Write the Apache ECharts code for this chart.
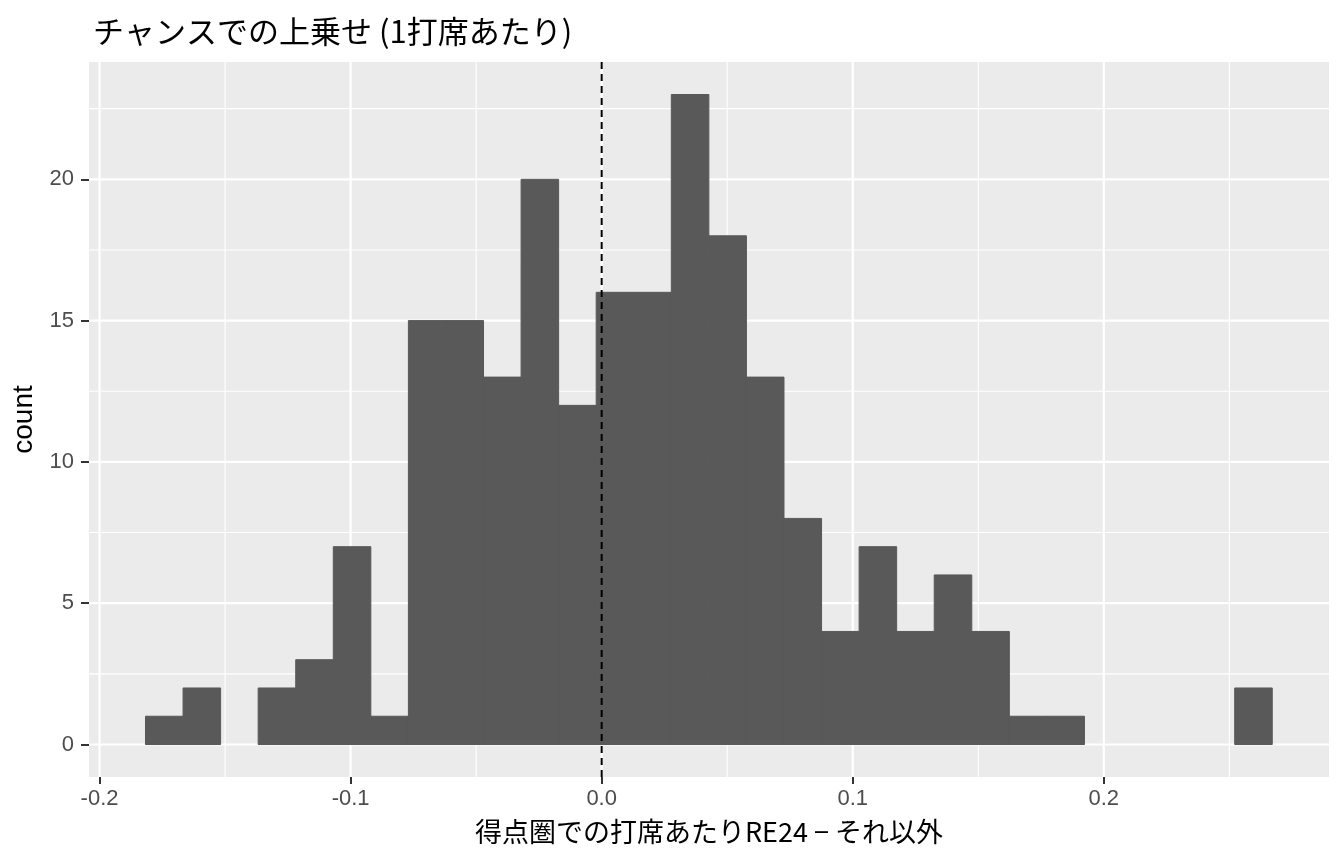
<!DOCTYPE html>
<html>
<head>
<meta charset="utf-8">
<script src="https://cdn.jsdelivr.net/npm/echarts@6/dist/echarts.min.js"></script>
<style>
html,body{margin:0;padding:0;background:#fff;}
#chart{width:1344px;height:864px;}
</style>
</head>
<body>
<div id="chart"></div>
<script>
// Histogram bins (30 bins)
const binStart = -0.1817;
const binWidth = 0.01496;
const counts = [1, 2, 0, 2, 3, 7, 1, 15, 15, 13, 20, 12, 16, 16, 23, 18, 13, 8, 4, 7, 4, 6, 4, 1, 1, 0, 0, 0, 0, 2];
const xTicks = [-0.2, -0.1, 0, 0.1, 0.2];
const xMinor = [-0.15, -0.05, 0.05, 0.15, 0.25];
const yTicks = [0, 5, 10, 15, 20];
const yMinor = [2.5, 7.5, 12.5, 17.5, 22.5];
const refLine = [0];
const xRange = [-0.2042, 0.2897];
const yRange = [-1.15, 24.15];

const titleText = 'チャンスでの上乗せ (1打席あたり)';
const xTitle = '得点圏での打席あたりRE24 − それ以外';
const yTitle = 'count';

const bars = counts.map((c, i) => [binStart + i * binWidth, binStart + (i + 1) * binWidth, c]);

const gridLines = [];
xTicks.forEach(v => gridLines.push(['x', v, 2.2]));
xMinor.forEach(v => gridLines.push(['x', v, 1.1]));
yTicks.forEach(v => gridLines.push(['y', v, 2.2]));
yMinor.forEach(v => gridLines.push(['y', v, 1.1]));

const chart = echarts.init(document.getElementById('chart'));
chart.setOption({
  animation: false,
  backgroundColor: '#ffffff',
  title: {
    text: titleText,
    left: 88, top: 11,
    textStyle: {fontFamily: 'Noto Sans CJK JP', fontSize: 31, fontWeight: 'normal', color: '#000'}
  },
  grid: {
    left: 89, right: 15, top: 62, bottom: 87,
    show: true, backgroundColor: '#EBEBEB', borderWidth: 0
  },
  xAxis: {
    type: 'value', min: xRange[0], max: xRange[1],
    name: xTitle, nameLocation: 'middle', nameGap: 41,
    nameTextStyle: {fontFamily: 'Noto Sans CJK JP', fontSize: 27, color: '#000'},
    axisLine: {show: false, onZero: false},
    axisTick: {show: true, length: 7, customValues: xTicks, lineStyle: {color: '#333333', width: 2}},
    axisLabel: {customValues: xTicks, margin: 11, fontFamily: 'Liberation Sans', fontSize: 22, color: '#4D4D4D',
      formatter: v => v.toFixed(1)},
    splitLine: {show: false}
  },
  yAxis: {
    type: 'value', min: yRange[0], max: yRange[1],
    name: yTitle, nameLocation: 'middle', nameGap: 48, nameRotate: 90,
    nameTextStyle: {fontFamily: 'Liberation Sans', fontSize: 28, color: '#000'},
    axisLine: {show: false, onZero: false},
    axisTick: {show: true, length: 8, customValues: yTicks, lineStyle: {color: '#333333', width: 2}},
    axisLabel: {customValues: yTicks, margin: 15, fontFamily: 'Liberation Sans', fontSize: 22, color: '#4D4D4D'},
    splitLine: {show: false}
  },
  series: [
    {
      type: 'custom', z: 1, silent: true,
      data: gridLines.map((g, i) => [i]),
      encode: {x: -1, y: -1},
      renderItem: function (params, api) {
        const g = gridLines[params.dataIndex];
        let p1, p2;
        if (g[0] === 'x') {
          p1 = api.coord([g[1], yRange[0]]);
          p2 = api.coord([g[1], yRange[1]]);
        } else {
          p1 = api.coord([xRange[0], g[1]]);
          p2 = api.coord([xRange[1], g[1]]);
        }
        return {type: 'line', shape: {x1: p1[0], y1: p1[1], x2: p2[0], y2: p2[1]},
          style: {stroke: '#FFFFFF', lineWidth: g[2]}};
      }
    },
    {
      type: 'custom', z: 2, silent: true,
      data: bars,
      encode: {x: [0, 1], y: 2},
      renderItem: function (params, api) {
        const c = api.value(2);
        if (c <= 0) return null;
        const p0 = api.coord([api.value(0), 0]);
        const p1 = api.coord([api.value(1), c]);
        return {type: 'rect', shape: {x: p0[0], y: p1[1], width: p1[0] - p0[0], height: p0[1] - p1[1]},
          style: {fill: '#595959', stroke: '#595959', lineWidth: 1}};
      }
    },
    {
      type: 'custom', z: 3, silent: true,
      data: refLine.map(v => [v]),
      encode: {x: 0},
      renderItem: function (params, api) {
        const v = api.value(0);
        const p1 = api.coord([v, yRange[0]]);
        const p2 = api.coord([v, yRange[1]]);
        return {type: 'line', shape: {x1: p1[0], y1: p1[1], x2: p2[0], y2: p2[1]},
          style: {stroke: '#000000', lineWidth: 2, lineDash: [7, 5]}};
      }
    }
  ]
});
</script>
</body>
</html>
